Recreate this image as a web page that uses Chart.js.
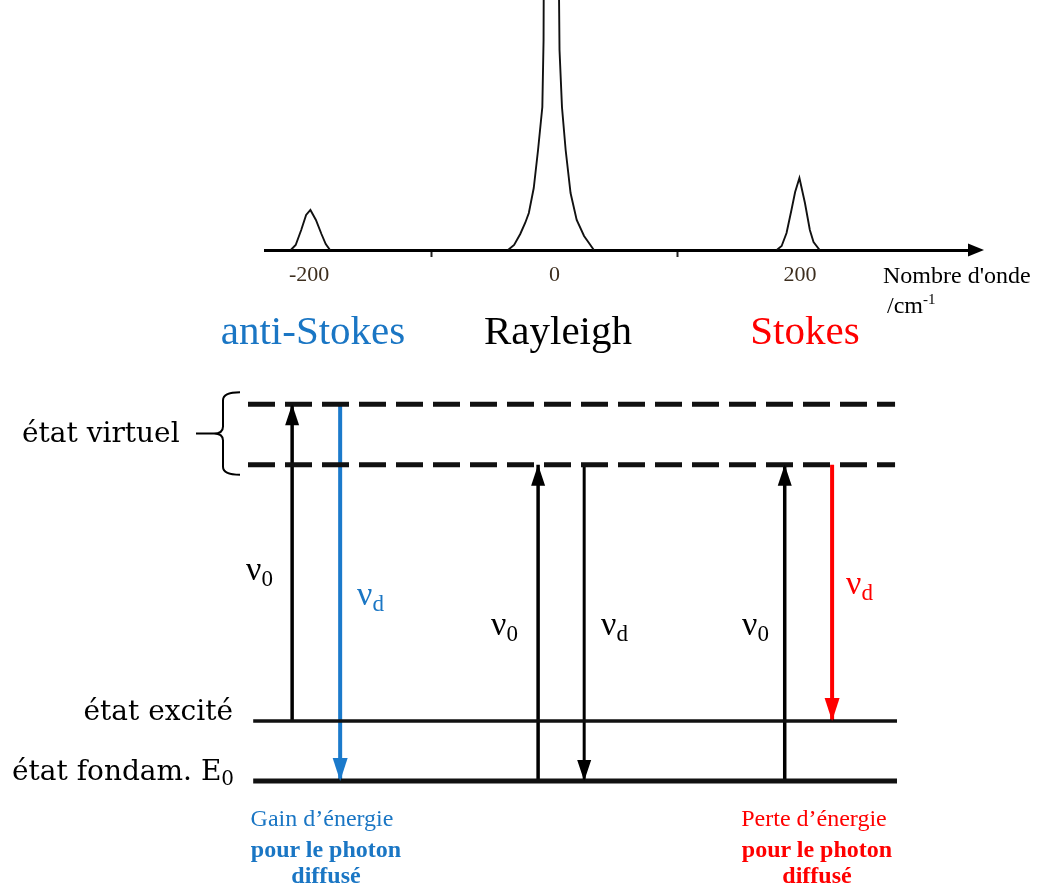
<!DOCTYPE html>
<html>
<head>
<meta charset="utf-8">
<script src="https://cdn.jsdelivr.net/npm/chart.js@4.4.0/dist/chart.umd.min.js"></script>
<style>
html, body { margin: 0; padding: 0; background: #fff; }
#page { position: relative; width: 1042px; height: 891px; overflow: hidden; font-family: 'Liberation Serif', serif; color: #000; }
.box { position: absolute; left: 0; width: 1042px; }
.lbl { position: absolute; white-space: nowrap; line-height: 1; }
.c { transform: translateX(-50%); }
.dv { font-family: 'DejaVu Serif', serif; font-size: 28px; }
.nu { font-size: 34px; }
.nu span { font-size: 23px; position: relative; top: 6px; }
.blue { color: #1a76c4; }
.red { color: #ff0000; }
.note { font-size: 24px; }
.note b { font-size: 24px; }
</style>
</head>
<body>
<div id="page">
  <div class="box" style="top:0;height:300px"><canvas id="spectrum"></canvas></div>
  <div class="box" style="top:300px;height:591px"><canvas id="levels"></canvas></div>

  <!-- axis title -->
  <div class="lbl" style="left:883px;top:263px;font-size:24px">Nombre d'onde</div>
  <div class="lbl" style="left:887px;top:293px;font-size:24px">/cm<span style="font-size:15px;position:relative;top:-9px">-1</span></div>

  <!-- peak names -->
  <div class="lbl c blue" style="left:313px;top:310px;font-size:41px">anti-Stokes</div>
  <div class="lbl c" style="left:558px;top:310px;font-size:41px">Rayleigh</div>
  <div class="lbl c red" style="left:805px;top:310px;font-size:41px">Stokes</div>

  <!-- level names -->
  <div class="lbl dv" style="left:22px;top:419px">état virtuel</div>
  <div class="lbl dv" style="right:809px;top:697px">état excité</div>
  <div class="lbl dv" style="left:12px;top:757px">état fondam. E<span style="font-size:20px;position:relative;top:5px">0</span></div>

  <!-- transition labels -->
  <div class="lbl nu" style="left:246px;top:552px">ν<span>0</span></div>
  <div class="lbl nu blue" style="left:357px;top:577px">ν<span>d</span></div>
  <div class="lbl nu" style="left:491px;top:607px">ν<span>0</span></div>
  <div class="lbl nu" style="left:601px;top:607px">ν<span>d</span></div>
  <div class="lbl nu" style="left:742px;top:607px">ν<span>0</span></div>
  <div class="lbl nu red" style="left:846px;top:566px">ν<span>d</span></div>

  <!-- notes -->
  <div class="lbl c note blue" style="left:322px;top:806px">Gain d’énergie</div>
  <div class="lbl c note blue" style="left:326px;top:837px"><b>pour le photon</b></div>
  <div class="lbl c note blue" style="left:326px;top:863px"><b>diffusé</b></div>
  <div class="lbl c note red" style="left:814px;top:806px">Perte d’énergie</div>
  <div class="lbl c note red" style="left:817px;top:837px"><b>pour le photon</b></div>
  <div class="lbl c note red" style="left:817px;top:863px"><b>diffusé</b></div>
</div>

<script>
// ---------- spectrum (wavenumber in cm-1, intensity in arbitrary units) ----------
const antiStokesX = [-215, -211, -206.5, -202.5, -199, -194.5, -190, -186.5, -183];
const antiStokesY = [0, 5, 20, 35, 40, 30, 16, 6, 0];

const rayleighX = [-38, -33, -28, -24, -21, -17, -13.5, -10, -9, -8.5, -3, 2.5, 4, 6, 9, 13, 18, 24, 28, 32];
const rayleighY = [0, 5, 16, 27, 37, 62, 100, 143, 210, 400, 2000, 400, 200, 143, 100, 57, 30, 14, 7, 0];

const stokesX = [181, 185, 189, 193, 196, 199.5, 204, 208, 211, 216];
const stokesY = [0, 4, 17, 40, 58, 72, 47, 20, 8, 0];

const tickValues = [-200, -100, 0, 100, 200];
const labeledTicks = [-200, 0, 200];

// ---------- energy diagram ----------
// levels: ground, excited, lower virtual, upper virtual
const levelEnergy = [0, 1, 5.27, 6.28];
const levelDashed = [false, false, true, true];

// transitions: horizontal position (0-100 across the levels), start and end energy
const arrowX    = [6.8, 14.2, 44.7, 51.8, 82.7, 90.0];
const arrowFrom = [1, 6.28, 0, 5.27, 0, 5.27];
const arrowTo   = [6.28, 0, 5.27, 0, 5.27, 1];
const arrowKind = ['excite', 'antiStokes', 'excite', 'rayleigh', 'excite', 'stokes'];

const arrowStyle = {
    excite:     { color: '#000', width: 3.5, head: [14, 21] },
    antiStokes: { color: '#1b7acb', width: 4, head: [15, 23] },
    rayleigh:   { color: '#000', width: 3, head: [14, 21] },
    stokes:     { color: '#ff0000', width: 4, head: [15, 23] }
};

const toPoints = (xs, ys) => xs.map((x, i) => ({ x: x, y: ys[i] }));

// arrow on the end of the wavenumber axis
const axisArrow = {
    id: 'axisArrow',
    afterDraw(chart) {
        const { ctx, chartArea } = chart;
        ctx.save();
        ctx.fillStyle = '#000';
        ctx.beginPath();
        ctx.moveTo(chartArea.right + 14, chartArea.bottom);
        ctx.lineTo(chartArea.right - 2, chartArea.bottom - 6.5);
        ctx.lineTo(chartArea.right - 2, chartArea.bottom + 6.5);
        ctx.closePath();
        ctx.fill();
        ctx.restore();
    }
};

new Chart(document.getElementById('spectrum'), {
    type: 'scatter',
    data: {
        datasets: [
            { data: toPoints(antiStokesX, antiStokesY) },
            { data: toPoints(rayleighX, rayleighY) },
            { data: toPoints(stokesX, stokesY) }
        ].map(d => ({ ...d, showLine: true, borderColor: '#111', borderWidth: 1.9, pointRadius: 0, tension: 0 }))
    },
    options: {
        responsive: true,
        maintainAspectRatio: false,
        animation: false,
        events: [],
        layout: { padding: { left: 265, right: 72, top: 0, bottom: 0 } },
        plugins: { legend: { display: false }, tooltip: { enabled: false } },
        scales: {
            x: {
                type: 'linear',
                min: -236,
                max: 338.5,
                afterBuildTicks: (scale) => { scale.ticks = tickValues.map(v => ({ value: v })); },
                afterFit: (scale) => { scale.height = 50; },
                border: { display: true, color: '#000', width: 3 },
                grid: {
                    drawOnChartArea: false,
                    tickLength: 7,
                    tickWidth: 2,
                    tickColor: (ctx) => (ctx.tick && labeledTicks.includes(ctx.tick.value)) ? 'rgba(0,0,0,0)' : '#222'
                },
                ticks: {
                    padding: 5,
                    maxRotation: 0,
                    autoSkip: false,
                    color: '#3d2e1e',
                    font: { family: "'Liberation Serif', serif", size: 22 },
                    callback: (v) => labeledTicks.includes(v) ? String(v) : ''
                }
            },
            y: { display: false, min: 0, max: 250 }
        }
    },
    plugins: [axisArrow]
});

// arrow heads on transition lines
const arrowHeads = {
    id: 'arrowHeads',
    afterDatasetsDraw(chart) {
        const ctx = chart.ctx;
        chart.data.datasets.forEach((ds, i) => {
            if (!ds.head) return;
            const pts = chart.getDatasetMeta(i).data;
            const a = pts[0], b = pts[1];
            const dir = Math.sign(b.y - a.y);
            const [w, l] = ds.head;
            ctx.save();
            ctx.fillStyle = ds.borderColor;
            ctx.beginPath();
            ctx.moveTo(b.x, b.y);
            ctx.lineTo(b.x - w / 2, b.y - dir * l);
            ctx.lineTo(b.x + w / 2, b.y - dir * l);
            ctx.closePath();
            ctx.fill();
            ctx.restore();
        });
    }
};

// brace grouping the two virtual levels
const virtualBrace = {
    id: 'virtualBrace',
    afterDraw(chart) {
        const { ctx } = chart;
        const xs = chart.scales.x, ys = chart.scales.y;
        const x = xs.getPixelForValue(0) - 25;
        const top = ys.getPixelForValue(levelEnergy[3]) - 12;
        const bot = ys.getPixelForValue(levelEnergy[2]) + 10;
        const mid = (top + bot) / 2;
        ctx.save();
        ctx.strokeStyle = '#000';
        ctx.lineWidth = 2;
        ctx.beginPath();
        ctx.moveTo(x + 17, top);
        ctx.quadraticCurveTo(x, top, x, top + 8);
        ctx.lineTo(x, mid - 7);
        ctx.quadraticCurveTo(x, mid, x - 9, mid);
        ctx.quadraticCurveTo(x, mid, x, mid + 7);
        ctx.lineTo(x, bot - 8);
        ctx.quadraticCurveTo(x, bot, x + 17, bot);
        ctx.moveTo(x - 9, mid);
        ctx.lineTo(x - 27, mid);
        ctx.stroke();
        ctx.restore();
    }
};

const levelSets = levelEnergy.map((e, i) => ({
    data: levelDashed[i] ? [{ x: 0, y: e }, { x: 99.7, y: e }] : [{ x: 0.8, y: e }, { x: 100, y: e }],
    borderColor: '#111',
    borderWidth: i === 1 ? 3.5 : 5,
    borderDash: levelDashed[i] ? [27, 10] : [],
    borderCapStyle: 'butt'
}));

const arrowSets = arrowX.map((x, i) => {
    const st = arrowStyle[arrowKind[i]];
    return {
        data: [{ x: x, y: arrowFrom[i] }, { x: x, y: arrowTo[i] }],
        borderColor: st.color,
        borderWidth: st.width,
        head: st.head,
        borderCapStyle: 'butt'
    };
});

new Chart(document.getElementById('levels'), {
    type: 'scatter',
    data: {
        datasets: [...levelSets, ...arrowSets].map(d => ({ ...d, showLine: true, pointRadius: 0, clip: false }))
    },
    options: {
        responsive: true,
        maintainAspectRatio: false,
        animation: false,
        events: [],
        layout: { padding: { left: 248, right: 145, top: 61, bottom: 50 } },
        plugins: { legend: { display: false }, tooltip: { enabled: false } },
        scales: {
            x: { display: false, type: 'linear', min: 0, max: 100 },
            y: { display: false, min: -1, max: 7 }
        }
    },
    plugins: [arrowHeads, virtualBrace]
});
</script>
</body>
</html>
